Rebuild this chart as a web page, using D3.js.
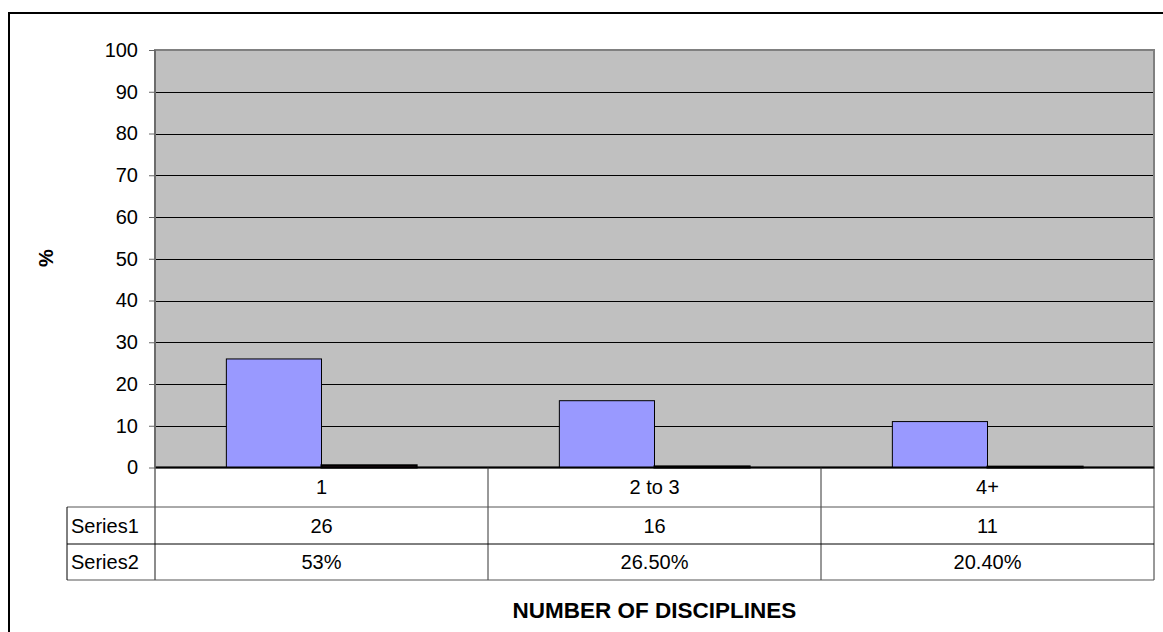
<!DOCTYPE html>
<html lang="en">
<head>
<meta charset="utf-8">
<script src="https://d3js.org/d3.v7.min.js"></script>
<style type="text/css">
    body { margin: 0; background: #fff; }
    svg { display: block; font-family: "Liberation Sans", Arial, sans-serif; }
    .grid line { stroke: #000; stroke-width: 1px; }
    .cell { font-size: 20px; fill: #000; }
</style>
</head>
<body>
<svg width="1163" height="632"></svg>
<script type="text/javascript">

    // data
    var categories = ["1", "2 to 3", "4+"];
    var seriesNames = ["Series1", "Series2"];
    var series1 = [26, 16, 11];
    var series2 = [0.53, 0.265, 0.204];
    var series2Labels = ["53%", "26.50%", "20.40%"];
    var yTicks = [0, 10, 20, 30, 40, 50, 60, 70, 80, 90, 100];
    var seriesColors = ["#9999FF", "#993366"];

    var svg = d3.select("svg");

    var plot = {left: 155, right: 1154, top: 50, bottom: 467.5};
    var rows = [467.5, 507, 544, 580];   // table row edges
    var tableLeft = 67;

    var x = d3.scaleBand().domain(categories).range([plot.left, plot.right]);
    var xs = d3.scaleBand().domain(seriesNames).range([0, x.bandwidth()])
        .paddingInner(0).paddingOuter(0.75);
    var y = d3.scaleLinear().domain([0, 100]).range([plot.bottom, plot.top]);

    // outer chart border (runs off the picture)
    svg.append("rect")
        .attr("x", 9).attr("y", 13)
        .attr("width", 1200).attr("height", 700)
        .attr("fill", "none").attr("stroke", "#000").attr("stroke-width", 2);

    // plot area
    svg.append("rect")
        .attr("x", plot.left).attr("y", plot.top)
        .attr("width", plot.right - plot.left).attr("height", plot.bottom - plot.top)
        .attr("fill", "#C0C0C0");

    // gridlines
    svg.append("g").attr("class", "grid")
        .selectAll("line")
        .data(yTicks.filter(function (d) { return d > 0 && d < 100; }))
        .enter().append("line")
        .attr("x1", plot.left).attr("x2", plot.right)
        .attr("y1", function (d) { return Math.round(y(d)) + 0.5; })
        .attr("y2", function (d) { return Math.round(y(d)) + 0.5; });

    // plot border
    svg.append("rect")
        .attr("x", plot.left).attr("y", plot.top)
        .attr("width", plot.right - plot.left).attr("height", plot.bottom - plot.top)
        .attr("fill", "none").attr("stroke", "#808080").attr("stroke-width", 2);

    // bars
    var groups = svg.append("g").selectAll("g")
        .data(categories)
        .enter().append("g")
        .attr("transform", function (d) { return "translate(" + x(d) + ",0)"; });

    groups.selectAll("rect")
        .data(function (d, i) {
            return [{s: "Series1", v: series1[i]}, {s: "Series2", v: series2[i]}];
        })
        .enter().append("rect")
        .attr("x", function (d) { return xs(d.s); })
        .attr("width", xs.bandwidth())
        .attr("y", function (d) { return y(d.v); })
        .attr("height", function (d) { return y(0) - y(d.v); })
        .attr("fill", function (d, i) { return seriesColors[i]; })
        .attr("stroke", "#000")
        .attr("stroke-width", function (d, i) { return i == 1 ? 2 : 1; });

    // y axis
    var yAxis = d3.axisLeft(y).tickValues(yTicks).tickSize(6).tickPadding(11);
    var ya = svg.append("g")
        .attr("transform", "translate(" + plot.left + ",0)")
        .call(yAxis);
    ya.select(".domain").remove();
    ya.selectAll(".tick line").attr("stroke", "#666");
    ya.selectAll(".tick text")
        .attr("font-size", 20)
        .attr("font-family", "Liberation Sans, Arial, sans-serif")
        .attr("fill", "#000");

    // zero line
    svg.append("line")
        .attr("x1", plot.left).attr("x2", plot.right)
        .attr("y1", y(0)).attr("y2", y(0))
        .attr("stroke", "#000").attr("stroke-width", 2);

    // axis line running through the table
    svg.append("line")
        .attr("x1", plot.left).attr("x2", plot.left)
        .attr("y1", plot.top).attr("y2", rows[3])
        .attr("stroke", "#666").attr("stroke-width", 1.5);

    // data table
    var table = svg.append("g");
    table.append("line")
        .attr("x1", plot.right).attr("x2", plot.right)
        .attr("y1", rows[0]).attr("y2", rows[3])
        .attr("stroke", "#333");
    table.selectAll(".vsep")
        .data(categories.slice(1))
        .enter().append("line")
        .attr("x1", function (d) { return x(d); })
        .attr("x2", function (d) { return x(d); })
        .attr("y1", rows[0]).attr("y2", rows[3])
        .attr("stroke", "#333");
    table.selectAll(".hsep")
        .data(rows.slice(1))
        .enter().append("line")
        .attr("x1", tableLeft).attr("x2", plot.right)
        .attr("y1", function (d) { return d; })
        .attr("y2", function (d) { return d; })
        .attr("stroke", function (d, i) { return i == 1 ? "#000" : "#555"; });
    table.append("line")
        .attr("x1", tableLeft).attr("x2", tableLeft)
        .attr("y1", rows[1]).attr("y2", rows[3])
        .attr("stroke", "#000");

    function rowMid(r) { return (rows[r] + rows[r + 1]) / 2; }

    // category labels
    table.selectAll(".cat")
        .data(categories)
        .enter().append("text")
        .attr("class", "cell")
        .attr("x", function (d) { return x(d) + x.bandwidth() / 2; })
        .attr("y", rowMid(0))
        .attr("dy", "0.36em")
        .attr("text-anchor", "middle")
        .text(function (d) { return d; });

    // series names
    table.selectAll(".sname")
        .data(seriesNames)
        .enter().append("text")
        .attr("class", "cell")
        .attr("x", tableLeft + 4)
        .attr("y", function (d, i) { return rowMid(i + 1); })
        .attr("dy", "0.36em")
        .text(function (d) { return d; });

    // values
    var rowValues = [series1.map(String), series2Labels];
    rowValues.forEach(function (vals, r) {
        table.selectAll(".v" + r)
            .data(vals)
            .enter().append("text")
            .attr("class", "cell")
            .attr("x", function (d, i) { return x(categories[i]) + x.bandwidth() / 2; })
            .attr("y", rowMid(r + 1))
            .attr("dy", "0.36em")
            .attr("text-anchor", "middle")
            .text(function (d) { return d; });
    });

    // axis titles
    svg.append("text")
        .attr("x", (plot.left + plot.right) / 2)
        .attr("y", 610)
        .attr("dy", "0.36em")
        .attr("text-anchor", "middle")
        .attr("font-size", 22.5)
        .attr("font-weight", "bold")
        .text("NUMBER OF DISCIPLINES");

    svg.append("text")
        .attr("transform", "translate(46,258) rotate(-90)")
        .attr("dy", "0.36em")
        .attr("text-anchor", "middle")
        .attr("font-size", 20)
        .attr("font-weight", "bold")
        .text("%");

</script>
</body>
</html>
